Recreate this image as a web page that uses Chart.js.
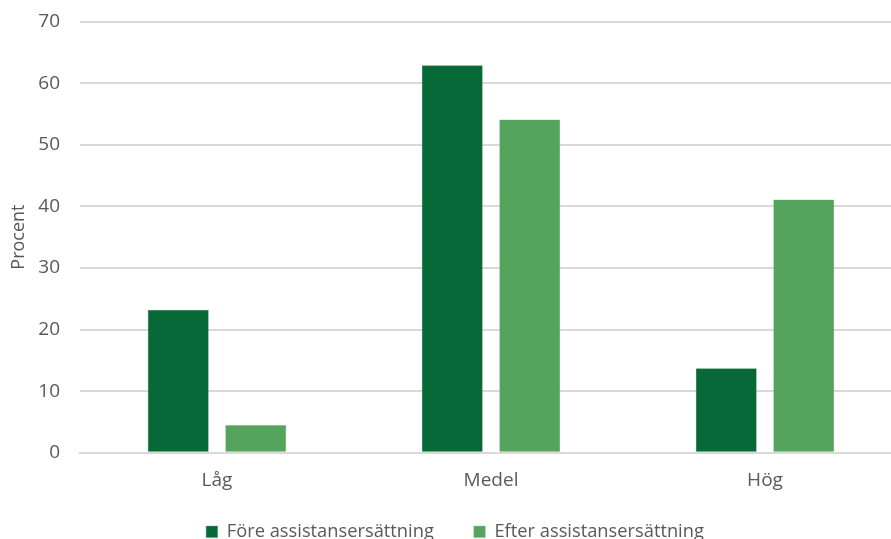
<!DOCTYPE html>
<html>
<head>
<meta charset="utf-8">
<script src="https://cdn.jsdelivr.net/npm/chart.js@4/dist/chart.umd.min.js"></script>
<style>
  html, body { margin: 0; padding: 0; background: #fff; overflow: hidden; }
  #wrap { width: 905px; height: 561px; }
</style>
</head>
<body>
<div id="wrap"><canvas id="niva" width="905" height="561"></canvas></div>
<script>
var categories = ['Låg', 'Medel', 'Hög'];
var fore = [23.2, 62.9, 13.7];
var efter = [4.5, 54.1, 41.1];
var yTicks = [0, 10, 20, 30, 40, 50, 60, 70];

var ctx = document.getElementById('niva').getContext('2d');
var fontFamily = "'Open Sans', 'Noto Sans', sans-serif";
var tickFont = { family: fontFamily, size: 19 };

// pull the legend up a bit; its padding is wide for the horizontal gap
var legendNudge = {
    id: 'legendNudge',
    afterLayout: function (chart) {
        if (chart.legend) {
            chart.legend.top -= 10;
            chart.legend.bottom -= 10;
        }
    }
};

var nivaChart = new Chart(ctx, {
    type: 'bar',
    data: {
        labels: categories,
        datasets: [{
            label: 'Före assistansersättning',
            data: fore,
            backgroundColor: '#076937',
            borderColor: '#5e9c74',
            borderWidth: 0.5,
            categoryPercentage: 0.566,
            barPercentage: 0.787
        }, {
            label: 'Efter assistansersättning',
            data: efter,
            backgroundColor: '#55a35c',
            borderColor: '#8cc190',
            borderWidth: 0.5,
            categoryPercentage: 0.566,
            barPercentage: 0.787
        }]
    },
    options: {
        responsive: false,
        animation: false,
        devicePixelRatio: 1,
        layout: { padding: { top: 0, right: 3, left: 8, bottom: 0 } },
        scales: {
            x: {
                grid: { display: false, drawTicks: false },
                border: { color: '#d9d9d9', width: 2 },
                ticks: { color: '#595959', font: tickFont, padding: 16 },
                afterFit: function (scale) {
                    scale.height = 40;
                }
            },
            y: {
                min: 0,
                max: 70,
                afterBuildTicks: function (axis) {
                    axis.ticks = yTicks.map(function (v) { return { value: v }; });
                },
                afterFit: function (scale) {
                    scale.width = 72;
                    scale.paddingTop = 21.5;
                    scale.paddingBottom = 0;
                },
                grid: { color: '#d9d9d9', lineWidth: 2, drawTicks: false },
                border: { display: false },
                ticks: { color: '#595959', font: tickFont, padding: 20 },
                title: {
                    display: true,
                    text: 'Procent',
                    color: '#595959',
                    font: { family: fontFamily, size: 18 },
                    padding: { top: 0, bottom: 0 }
                }
            }
        },
        plugins: {
            legend: {
                position: 'bottom',
                labels: {
                    color: '#595959',
                    font: { family: fontFamily, size: 18.3 },
                    boxWidth: 11.5,
                    boxHeight: 11.5,
                    padding: 40
                }
            },
            tooltip: { enabled: false }
        }
    },
    plugins: [legendNudge]
});
</script>
</body>
</html>
